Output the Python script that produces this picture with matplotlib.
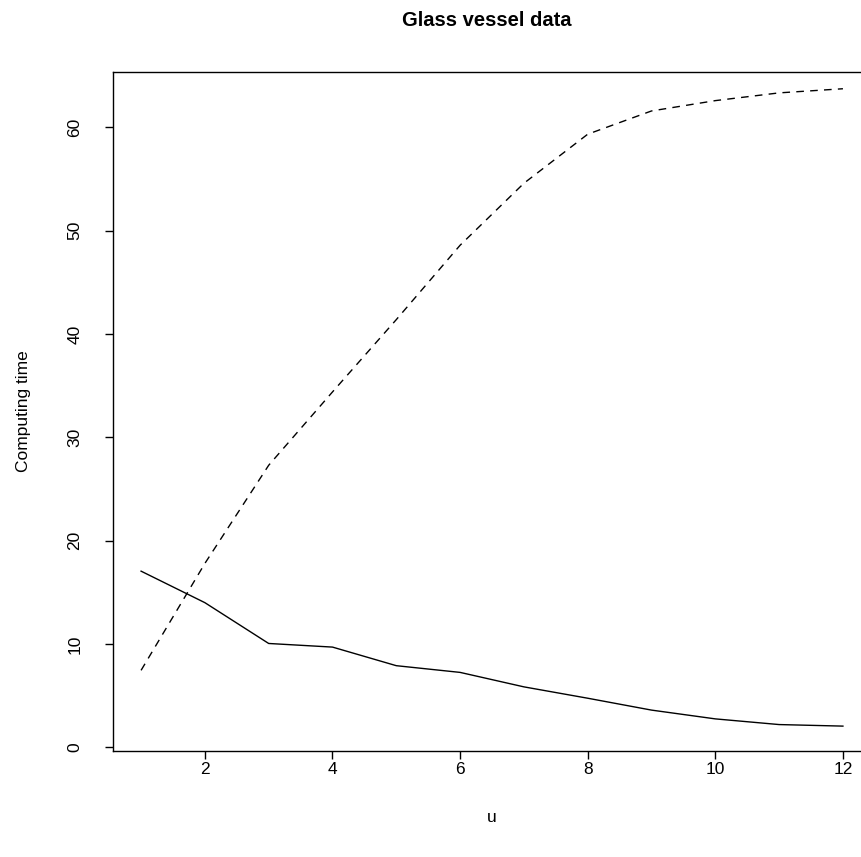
import matplotlib
matplotlib.use("Agg")
import matplotlib.pyplot as plt

# u values and the two computing-time curves
u = [1, 2, 3, 4, 5, 6, 7, 8, 9, 10, 11, 12]
time_solid = [17.05, 14.0, 10.05, 9.7, 7.9, 7.25, 5.85, 4.75, 3.6, 2.75, 2.2, 2.05]
time_dashed = [7.45, 17.8, 27.3, 34.4, 41.4, 48.6, 54.6, 59.35, 61.6, 62.6, 63.35, 63.75]
xticks = [2, 4, 6, 8, 10, 12]
yticks = [0, 10, 20, 30, 40, 50, 60]

plt.rcParams["font.family"] = ["Liberation Sans", "DejaVu Sans"]

W, H = 861, 857
fig = plt.figure(figsize=(W / 100, H / 100), dpi=100)
# plot region in pixels (R style base graphics box)
left, right, top, bottom = 113, 871, 71.7, 750.7
ax = fig.add_axes([left / W, (H - bottom) / H, (right - left) / W, (bottom - top) / H])

ax.plot(u, time_solid, color="black", lw=1.0)
ax.plot(u, time_dashed, color="black", lw=1.0, ls=(0, (5.5, 4.5)))

ax.set_xlim(0.56, 12.44)
ax.set_ylim(-0.33, 65.4)
ax.set_xticks(xticks)
ax.set_yticks(yticks)
ax.set_yticklabels([str(v) for v in yticks], rotation=90, va="center")

for s in ax.spines.values():
    s.set_linewidth(1.0)
ax.spines["right"].set_visible(False)

ax.tick_params(axis="both", direction="out", length=5.5, width=1.0, labelsize=12.5)
ax.tick_params(axis="x", pad=2.5)
ax.tick_params(axis="y", pad=16.5)

ax.set_xlabel("u", fontsize=12.5, labelpad=24)
ax.set_ylabel("Computing time", fontsize=12.5, labelpad=26)
fig.text(487 / W, 1 - 20 / H, "Glass vessel data", ha="center", va="center",
         fontsize=14.5, fontweight="bold")

fig.savefig("out.png", dpi=100, facecolor="white")
